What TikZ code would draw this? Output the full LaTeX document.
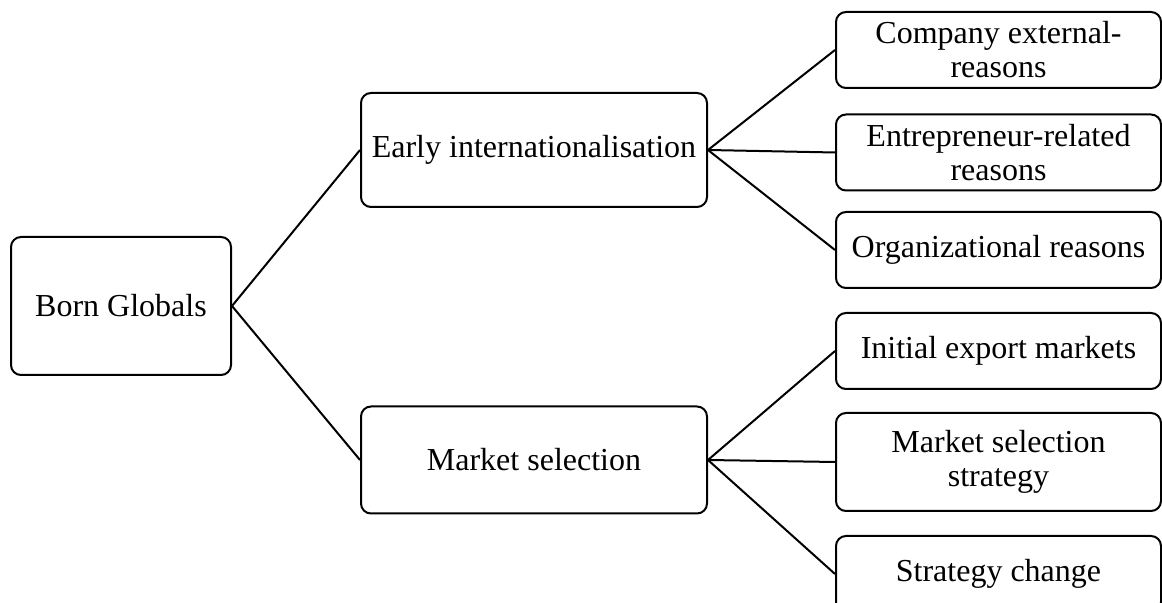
\documentclass[tikz,border=0pt]{standalone}
\usepackage{fontspec}
\setmainfont{Liberation Serif}
\usepackage{tikz}
\usetikzlibrary{positioning}

\begin{document}
\begin{tikzpicture}[
  x=0.5pt,y=-0.5pt,
  box/.style={draw,line width=1pt,rounded corners=5pt,align=center,inner sep=2pt,
    font=\fontsize{16}{17}\selectfont,fill=white},
  mid/.style={box,minimum width=173pt},
  leaf/.style={box,minimum width=162.5pt,minimum height=38pt},
  ln/.style={line width=1pt}]
\clip (0,0) rectangle (1162,603);
\useasboundingbox (0,0) rectangle (1162,603);
% root
\node[box,minimum width=110pt,minimum height=69pt] (bg) at (121,306) {Born Globals};
% middle level
\node[mid,minimum height=57pt] (early) at (534,150) {Early internationalisation};
\node[mid,minimum height=53.5pt] (msel) at (534,460) {Market selection};
% leaves
\node[leaf] (ext) at (998.5,50) {Company external-\\reasons};
\node[leaf] (ent) at (998.5,152.5) {Entrepreneur-related\\reasons};
\node[leaf] (org) at (998.5,250) {Organizational reasons};
\node[leaf] (init) at (998.5,351) {Initial export markets};
\node[leaf,minimum height=49pt] (mss) at (998.5,462) {Market selection\\strategy};
\node[leaf] (chg) at (998.5,574) {Strategy change};
% connectors
\foreach \a/\b in {bg/early,bg/msel,early/ext,early/ent,early/org,msel/init,msel/mss,msel/chg}
  \draw[ln] (\a.east) -- (\b.west);
\end{tikzpicture}
\end{document}
